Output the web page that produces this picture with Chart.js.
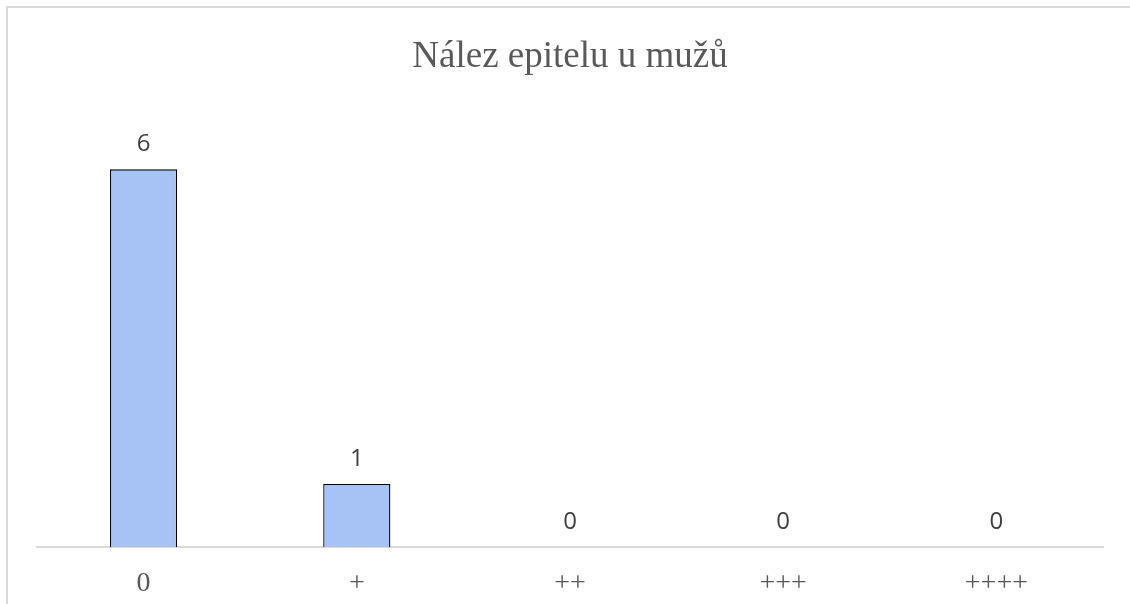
<!DOCTYPE html>
<html>
<head>
<meta charset="utf-8">
<script src="https://cdn.jsdelivr.net/npm/chart.js@4"></script>
<style>
  html, body { margin: 0; padding: 0; background: #fff; overflow: hidden; }
  #frame { position: absolute; left: 6px; top: 6px; width: 1200px; height: 700px; border: 2px solid #d9d9d9; box-sizing: border-box; }
  #wrap { position: absolute; left: 0; top: 0; width: 1130px; height: 604px; }
</style>
</head>
<body>
<div id="frame"></div>
<div id="wrap"><canvas id="c" width="1130" height="604"></canvas></div>
<script>
const titleText = "Nález epitelu u mužů";
const categories = ["0", "+", "++", "+++", "++++"];
const values = [6, 1, 0, 0, 0];

const dataLabels = {
  id: 'dataLabels',
  afterDatasetsDraw(chart) {
    const ctx = chart.ctx;
    const meta = chart.getDatasetMeta(0);
    ctx.save();
    ctx.font = '24px "Open Sans", sans-serif';
    ctx.fillStyle = '#404040';
    ctx.textAlign = 'center';
    ctx.textBaseline = 'middle';
    meta.data.forEach((bar, i) => {
      ctx.fillText(String(values[i]), bar.x, bar.y - 25);
    });
    ctx.restore();
  }
};

new Chart(document.getElementById('c'), {
  type: 'bar',
  data: {
    labels: categories,
    datasets: [{
      data: values,
      backgroundColor: '#a7c3f6',
      borderColor: '#000000',
      borderWidth: 1.3,
      borderSkipped: 'bottom',
      categoryPercentage: 1,
      barPercentage: 0.315
    }]
  },
  options: {
    responsive: false,
    animation: false,
    layout: { padding: { left: 37, right: 27, top: 0, bottom: 0 } },
    plugins: {
      legend: { display: false },
      tooltip: { enabled: false },
      title: {
        display: true,
        text: titleText,
        color: '#595959',
        font: { family: '"Liberation Serif", "Times New Roman", serif', size: 37, weight: 'normal' },
        padding: { top: 35, bottom: 27 }
      }
    },
    scales: {
      x: {
        afterFit(scale) { scale.height = 57; },
        grid: { display: false, drawTicks: false },
        border: { display: true, color: '#d9d9d9', width: 2 },
        ticks: {
          color: '#595959',
          padding: 20,
          font: { family: '"Liberation Serif", "Times New Roman", serif', size: 28 }
        }
      },
      y: {
        display: false,
        min: 0,
        max: 7
      }
    }
  },
  plugins: [dataLabels]
});
</script>
</body>
</html>
